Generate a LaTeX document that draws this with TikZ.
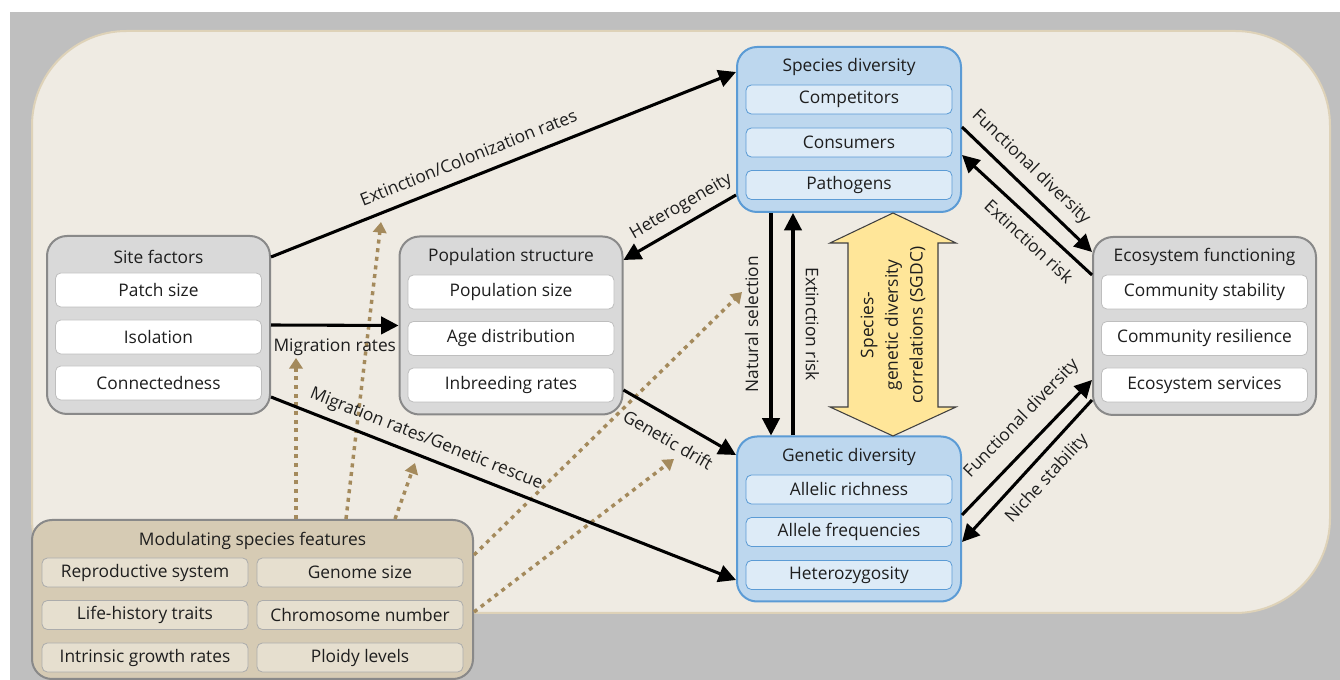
\documentclass[tikz,border=0pt]{standalone}
\usepackage{fontspec}
\setmainfont{Open Sans}
\usetikzlibrary{arrows.meta,calc}
\newcommand{\boxfont}{\fontsize{13}{18.4}\selectfont}
\definecolor{bggray}{RGB}{191,191,191}
\definecolor{panelbeige}{RGB}{239,235,227}
\definecolor{panelrim}{RGB}{222,210,184}
\definecolor{boxgray}{RGB}{217,217,217}
\definecolor{rimgray}{RGB}{137,137,137}
\definecolor{itemrim}{RGB}{190,190,190}
\definecolor{divblue}{RGB}{189,215,238}
\definecolor{itemblue}{RGB}{221,235,247}
\definecolor{rimblue}{RGB}{91,155,213}
\definecolor{modtan}{RGB}{214,203,180}
\definecolor{itemtan}{RGB}{230,223,207}
\definecolor{dotbrown}{RGB}{164,138,92}
\definecolor{sgdcyellow}{RGB}{255,230,153}
\definecolor{inkgray}{RGB}{30,30,30}
\tikzset{
  catbox/.style={draw=rimgray,line width=1.5pt,fill=boxgray,rounded corners=15pt,
                 minimum width=167.25pt,minimum height=133.5pt,inner sep=0pt},
  catitem/.style={draw=itemrim,line width=0.6pt,fill=white,rounded corners=4pt,
                  minimum width=154.5pt,minimum height=25.5pt,inner sep=0pt,
                  font=\boxfont,text=inkgray},
  divbox/.style={catbox,draw=rimblue,fill=divblue,minimum width=168pt,minimum height=123.75pt},
  divitem/.style={catitem,draw=rimblue,fill=itemblue,minimum height=21.75pt},
  modbox/.style={catbox,fill=modtan,minimum width=330.75pt,minimum height=119.25pt},
  moditem/.style={catitem,draw=rimgray!70,fill=itemtan,minimum height=21.75pt},
  boxtitle/.style={font=\boxfont,text=inkgray,inner sep=0pt},
  flow/.style={-{Triangle[length=13pt,width=13pt]},line width=2.3pt},
  modflow/.style={-{Triangle[length=8pt,width=10pt]},dotbrown,line width=2.6pt,
                  dash pattern=on 3pt off 3.5pt},
  lab/.style={font=\boxfont,text=inkgray,text height=9.5pt,text depth=2.5pt,inner sep=6.3pt},
  sgdc/.style={draw=black!75,line width=0.8pt,fill=sgdcyellow,line join=miter},
}
\begin{document}
\begin{tikzpicture}[x=0.75pt,y=-0.75pt]
  \path[use as bounding box] (0,0) rectangle (1340,680);
  \fill[bggray] (10,12) rectangle (1340,680);
  \draw[panelrim,line width=1.5pt,fill=panelbeige,rounded corners=71pt] (32,31) rectangle (1330,613);

  \node[catbox] (site) at (158.5,325) {};
  \node[boxtitle] (site-t) at (158.5,257) {Site factors};
  \foreach \i/\yy/\txt in {1/290/Patch size,2/337/Isolation,3/383/Connectedness}
    \node[catitem] (site-\i) at (158.5,\yy) {\txt};

  \node[catbox] (pop) at (511,325.5) {};
  \node[boxtitle] (pop-t) at (511,257) {Population structure};
  \foreach \i/\yy/\txt in {1/292/Population size,2/338.5/Age distribution,3/385/Inbreeding rates}
    \node[catitem] (pop-\i) at (511,\yy) {\txt};

  \node[divbox] (spec) at (849,129.5) {};
  \node[boxtitle] (spec-t) at (849,67) {Species diversity};
  \foreach \i/\yy/\txt in {1/99.5/Competitors,2/142.5/Consumers,3/185/Pathogens}
    \node[divitem] (spec-\i) at (849,\yy) {\txt};

  \node[divbox] (gen) at (849,519) {};
  \node[boxtitle] (gen-t) at (849,457) {Genetic diversity};
  \foreach \i/\yy/\txt in {1/489.5/Allelic richness,2/532/Allele frequencies,3/575/Heterozygosity}
    \node[divitem] (gen-\i) at (849,\yy) {\txt};

  \node[catbox] (eco) at (1204.5,326) {};
  \node[boxtitle] (eco-t) at (1204.5,257) {Ecosystem functioning};
  \foreach \i/\yy/\txt in {1/292/Community stability,2/338.5/Community resilience,3/385/Ecosystem services}
    \node[catitem] (eco-\i) at (1204.5,\yy) {\txt};

  \node[modbox] (mod) at (252.5,599.5) {};
  \node[boxtitle] (mod-t) at (252.5,541) {Modulating species features};
  \foreach \i/\xx/\yy/\txt in {1/145/572.5/Reproductive system,2/360/572.5/Genome size,
      3/145/615/Life-history traits,4/360/615/Chromosome number,
      5/145/657.5/Intrinsic growth rates,6/360/657.5/Ploidy levels}
    \node[moditem] (mod-\i) at (\xx,\yy) {\txt};

  \coordinate (mod-a) at (296,358);
  \coordinate (mod-b) at (381,222);
  \coordinate (mod-c) at (415,463);
  \coordinate (mod-d) at (742,292);
  \coordinate (mod-e) at (674,459);
  \draw[modflow] ($(mod.north)+(43.5,0)$) -- (mod-a);
  \draw[modflow] ($(mod.north)+(93.5,0)$) -- (mod-b);
  \draw[modflow] ($(mod.north)+(142.5,0)$) -- (mod-c);
  \draw[modflow] ($(mod.east)+(0,-44.5)$) -- (mod-d);
  \draw[modflow] ($(mod.east)+(0,12.5)$) -- (mod-e);

  \draw[flow] ($(site.east)+(0,-68)$) -- node[lab,sloped,above,pos=0.44] {Extinction/Colonization rates} ($(spec.west)+(0,-57.5)$);
  \draw[flow] (site.east) -- node[lab,below,inner sep=9pt] {Migration rates} (pop.west);
  \draw[flow] ($(site.east)+(0,72)$) -- node[lab,sloped,above,pos=0.32] {Migration rates/Genetic rescue} ($(gen.west)+(0,61)$);
  \draw[flow] ($(spec.west)+(0,65.5)$) -- node[lab,sloped,above,pos=0.41,inner sep=6pt] {Heterogeneity} ($(pop.east)+(0,-65.5)$);
  \draw[flow] ($(pop.east)+(0,64.5)$) -- node[lab,sloped,below,pos=0.49,inner sep=9.8pt] {Genetic drift} ($(gen.west)+(0,-64)$);
  \draw[flow] ($(spec.south)+(-78,0)$) -- node[lab,rotate=90,anchor=south,inner sep=6pt] {Natural selection} ($(gen.north)+(-78,0)$);
  \draw[flow] ($(gen.north)+(-56,0)$) -- node[lab,rotate=-90,anchor=south,inner sep=6pt] {Extinction risk} ($(spec.south)+(-56,0)$);
  \draw[flow] ($(spec.east)+(0,-2.5)$) -- node[lab,sloped,above,pos=0.43,inner sep=7pt] {Functional diversity} ($(eco.west)+(0,-74)$);
  \draw[flow] ($(eco.west)+(0,-51)$) -- node[lab,sloped,below,pos=0.39,inner sep=7.7pt] {Extinction risk} ($(spec.east)+(0,25.5)$);
  \draw[flow] ($(gen.east)+(0,-4)$) -- node[lab,sloped,above,pos=0.59,inner sep=10.8pt] {Functional diversity} ($(eco.west)+(0,54)$);
  \draw[flow] ($(eco.west)+(0,74)$) -- node[lab,sloped,below,pos=0.46,inner sep=8pt] {Niche stability} ($(gen.east)+(0,23)$);

  \draw[sgdc] (893,213) -- (956,243) -- (938,243) -- (938,407) -- (956,407) -- (893,436)
    -- (830,407) -- (848,407) -- (848,243) -- (830,243) -- cycle;
  \node[lab,rotate=90,align=center,text height=,text depth=] (sgdc-t) at (893,325) {Species-\\genetic diversity\\correlations (SGDC)};
\end{tikzpicture}
\end{document}
